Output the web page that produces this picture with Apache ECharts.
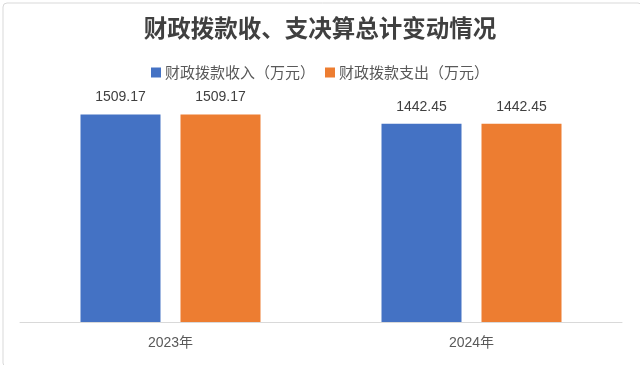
<!DOCTYPE html>
<html><head><meta charset="utf-8">
<script src="https://cdn.jsdelivr.net/npm/echarts@6/dist/echarts.min.js"></script>
<style>html,body{margin:0;padding:0;background:#fff}#c{width:640px;height:365px}</style>
</head><body><div id="c"></div>
<script>
const categories = ['2023年', '2024年'];
const incomeValues = [1509.17, 1442.45];
const expenseValues = [1509.17, 1442.45];
const seriesNames = ['财政拨款收入（万元）', '财政拨款支出（万元）'];
const titleText = '财政拨款收、支决算总计变动情况';

const chart = echarts.init(document.getElementById('c'), null, {renderer: 'canvas'});
const cjk = '"Noto Sans CJK SC", "Liberation Sans", sans-serif';
chart.setOption({
  animation: false,
  backgroundColor: '#fff',
  graphic: [{
    type: 'rect', left: 0.5, top: 0.5, silent: true,
    shape: {width: 639, height: 364, r: 4},
    style: {fill: 'none', stroke: '#d9d9d9', lineWidth: 1}
  }],
  title: {
    text: titleText, left: 'center', top: 11,
    textStyle: {fontFamily: cjk, fontSize: 23.5, fontWeight: 'bold', color: '#404040'}
  },
  legend: {
    top: 60, left: 'center', itemWidth: 10, itemHeight: 10, itemGap: 10,
    icon: 'rect',
    textStyle: {fontFamily: cjk, fontSize: 15, color: '#595959', padding: [0,0,0,-1]},
    data: seriesNames
  },
  grid: {left: 20, right: 18, top: 102, bottom: 43, containLabel: false},
  xAxis: {
    type: 'category', data: categories,
    axisLine: {lineStyle: {color: '#d9d9d9', width: 1}},
    axisTick: {show: false},
    axisLabel: {fontFamily: '"Liberation Sans", "Noto Sans CJK SC"', fontSize: 14, color: '#595959', margin: 14}
  },
  yAxis: {
    type: 'value', min: 0, max: 1600, show: false,
    splitLine: {show: false}
  },
  series: [
    {name: seriesNames[0], type: 'bar', data: incomeValues, barWidth: 80, barGap: '25%',
     itemStyle: {color: '#4472c4'},
     label: {show: true, position: 'top', distance: 10, fontFamily: '"Liberation Sans"', fontSize: 14, color: '#404040',
             formatter: p => p.value.toFixed(2)}},
    {name: seriesNames[1], type: 'bar', data: expenseValues, barWidth: 80,
     itemStyle: {color: '#ed7d31'},
     label: {show: true, position: 'top', distance: 10, fontFamily: '"Liberation Sans"', fontSize: 14, color: '#404040',
             formatter: p => p.value.toFixed(2)}}
  ]
});
</script></body></html>
